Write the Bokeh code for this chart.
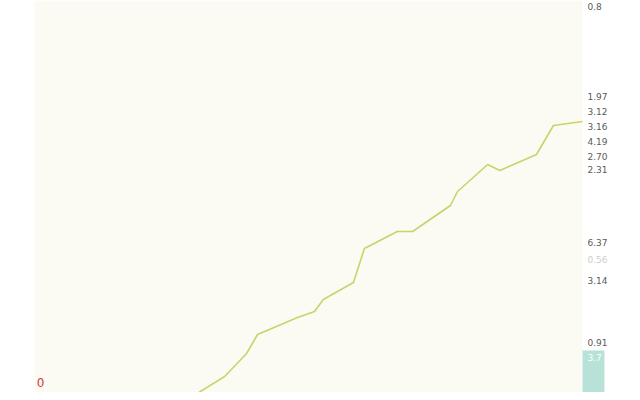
from bokeh.plotting import figure
from bokeh.models import Range1d, BoxAnnotation
from bokeh.embed import file_html
from bokeh.resources import INLINE
from bokeh.core.properties import value

# series (x in percent of plot width, y in percent of plot height)
line_x = [27.9, 34.7, 38.7, 40.7, 48.0, 51.1, 52.7, 58.2, 60.2, 66.2, 69.0,
          75.9, 77.2, 82.7, 84.9, 91.6, 94.7, 100.0]
line_y = [0.25, 6.0, 11.75, 16.5, 20.75, 22.25, 25.25, 29.5, 38.0, 42.25, 42.25,
          48.75, 52.25, 59.0, 57.5, 61.5, 68.75, 69.75]

# right-hand value labels
label_text = ["0.8", "1.97", "3.12", "3.16", "4.19", "2.70", "2.31", "6.37", "3.14", "0.91"]
label_y = [98.5, 76.0, 72.25, 68.5, 64.75, 61.0, 57.75, 39.5, 30.0, 14.5]
faint_text = ["0.56"]
faint_y = [35.25]

# bar at the right edge
bar_x = [102.0]
bar_top = [12.5]
bar_text = ["3.7"]
bar_label_y = [10.75]

p = figure(width=632, height=392, output_backend="svg", toolbar_location=None,
           x_range=Range1d(-6.204, 109.124), y_range=Range1d(2, 100),
           min_border=0, min_border_left=0, min_border_right=0,
           min_border_top=0, min_border_bottom=0)
p.axis.visible = False
p.grid.visible = False
p.outline_line_color = None
p.background_fill_color = "white"
p.border_fill_color = "white"

p.add_layout(BoxAnnotation(left=0, right=100, fill_color="#fbfbf3", fill_alpha=1.0,
                           line_color=None, level="underlay"))

p.vbar(x=bar_x, top=bar_top, width=4.0, bottom=0, color="#b8e1d7", line_color=None)

p.line(line_x, line_y, line_color="#c8d46a", line_width=1.6)

p.text(x=[100.9] * len(label_text), y=label_y, text=label_text,
       text_font=value("DejaVu Sans"), text_font_size="9px", text_color="#5a5a5a",
       text_align="left", text_baseline="middle")
p.text(x=[100.9], y=faint_y, text=faint_text,
       text_font=value("DejaVu Sans"), text_font_size="9px", text_color="#cccccc",
       text_align="left", text_baseline="middle")
p.text(x=[100.9], y=bar_label_y, text=bar_text,
       text_font=value("DejaVu Sans"), text_font_size="9px", text_color="#ffffff",
       text_align="left", text_baseline="middle")
p.text(x=[1.1], y=[4.5], text=["0"],
       text_font=value("DejaVu Sans"), text_font_size="12px", text_color="#d03a3a",
       text_align="center", text_baseline="middle")

open("out.html", "w").write(file_html(p, INLINE))
